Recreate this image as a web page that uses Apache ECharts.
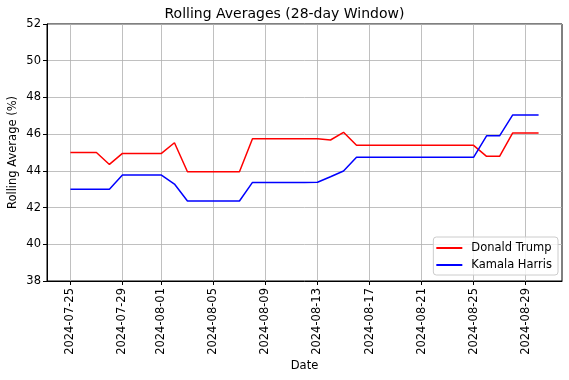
<!DOCTYPE html>
<html>
<head>
<meta charset="utf-8">
<script src="https://cdn.jsdelivr.net/npm/echarts@6/dist/echarts.min.js"></script>
<style>html,body{margin:0;padding:0;background:#fff}#c{width:569px;height:380px}</style>
</head>
<body>
<div id="c"></div>
<script>
const dates = ["2024-07-25","2024-07-26","2024-07-27","2024-07-28","2024-07-29","2024-07-30","2024-07-31",
"2024-08-01","2024-08-02","2024-08-03","2024-08-04","2024-08-05","2024-08-06","2024-08-07","2024-08-08",
"2024-08-09","2024-08-10","2024-08-11","2024-08-12","2024-08-13","2024-08-14","2024-08-15","2024-08-16",
"2024-08-17","2024-08-18","2024-08-19","2024-08-20","2024-08-21","2024-08-22","2024-08-23","2024-08-24",
"2024-08-25","2024-08-26","2024-08-27","2024-08-28","2024-08-29","2024-08-30"];
const trump = [45.0,45.0,45.0,44.35,44.95,44.95,44.95,44.95,45.53,43.95,43.95,43.95,43.95,43.95,45.75,
45.75,45.75,45.75,45.75,45.75,45.68,46.1,45.39,45.39,45.39,45.39,45.39,45.39,45.39,45.39,45.39,
45.39,44.79,44.79,46.06,46.06,46.06];
const harris = [43.0,43.0,43.0,43.0,43.77,43.77,43.77,43.77,43.28,42.36,42.36,42.36,42.36,42.36,43.37,
43.37,43.37,43.37,43.37,43.38,43.68,43.99,44.74,44.74,44.74,44.74,44.74,44.74,44.74,44.74,44.74,
44.74,45.91,45.91,47.04,47.04,47.04];
const xTickDates = ["2024-07-25","2024-07-29","2024-08-01","2024-08-05","2024-08-09","2024-08-13","2024-08-17","2024-08-21","2024-08-25","2024-08-29"];
const yTicks = [38,40,42,44,46,48,50,52];

const xTickIdx = xTickDates.map(d => dates.indexOf(d));
const pad = (dates.length - 1) * 0.05;
const font = "DejaVu Sans";
const chart = echarts.init(document.getElementById('c'), null, {renderer: 'canvas'});
chart.setOption({
  animation: false,
  backgroundColor: '#fff',
  title: {text: 'Rolling Averages (28-day Window)', left: 'center', top: 2,
    textStyle: {fontFamily: font, fontSize: 14, fontWeight: 'normal', color: '#000'}},
  grid: {left: 47, right: 7, top: 24, bottom: 99, show: true, borderColor: '#000', borderWidth: 1,
    containLabel: false, outerBoundsMode: 'none'},
  legend: {
    right: 11, bottom: 105, orient: 'vertical', itemGap: 5,
    icon: 'rect', itemWidth: 26, itemHeight: 2,
    padding: [5, 6, 4, 3],
    backgroundColor: 'rgba(255,255,255,0.8)', borderColor: '#ccc', borderWidth: 1, borderRadius: 3,
    textStyle: {fontFamily: font, fontSize: 11.5, color: '#000', padding: [0, 0, 0, 4]},
    data: ['Donald Trump', 'Kamala Harris']
  },
  xAxis: {
    type: 'value', min: -pad, max: dates.length - 1 + pad,
    name: 'Date', nameLocation: 'middle', nameGap: 79, nameMoveOverlap: false,
    nameTextStyle: {fontFamily: font, fontSize: 11.5, color: '#000'},
    axisLine: {show: true, onZero: false, lineStyle: {color: '#000', width: 1}},
    axisTick: {show: true, customValues: xTickIdx, length: 4, lineStyle: {color: '#000'}},
    axisLabel: {customValues: xTickIdx, rotate: 90, margin: 7, fontFamily: font, fontSize: 11.5, color: '#000',
      formatter: v => dates[Math.round(v)] || ''},
    splitLine: {show: true, lineStyle: {color: '#b0b0b0', width: 0.8}}
  },
  yAxis: {
    type: 'value', min: yTicks[0], max: yTicks[yTicks.length - 1], interval: 2,
    name: 'Rolling Average (%)', nameLocation: 'middle', nameGap: 28, nameMoveOverlap: false,
    nameTextStyle: {fontFamily: font, fontSize: 11.5, color: '#000'},
    axisLine: {show: true, onZero: false, lineStyle: {color: '#000', width: 1}},
    axisTick: {show: true, length: 4, lineStyle: {color: '#000'}},
    axisLabel: {margin: 6, fontFamily: font, fontSize: 11.5, color: '#000'},
    splitLine: {show: true, lineStyle: {color: '#b0b0b0', width: 0.8}}
  },
  series: [
    {name: 'Donald Trump', type: 'line', showSymbol: false, symbol: 'none',
     lineStyle: {color: '#ff0000', width: 1.5}, itemStyle: {color: '#ff0000'},
     data: trump.map((v, i) => [i, v])},
    {name: 'Kamala Harris', type: 'line', showSymbol: false, symbol: 'none',
     lineStyle: {color: '#0000ff', width: 1.5}, itemStyle: {color: '#0000ff'},
     data: harris.map((v, i) => [i, v])}
  ]
});
</script>
</body>
</html>
